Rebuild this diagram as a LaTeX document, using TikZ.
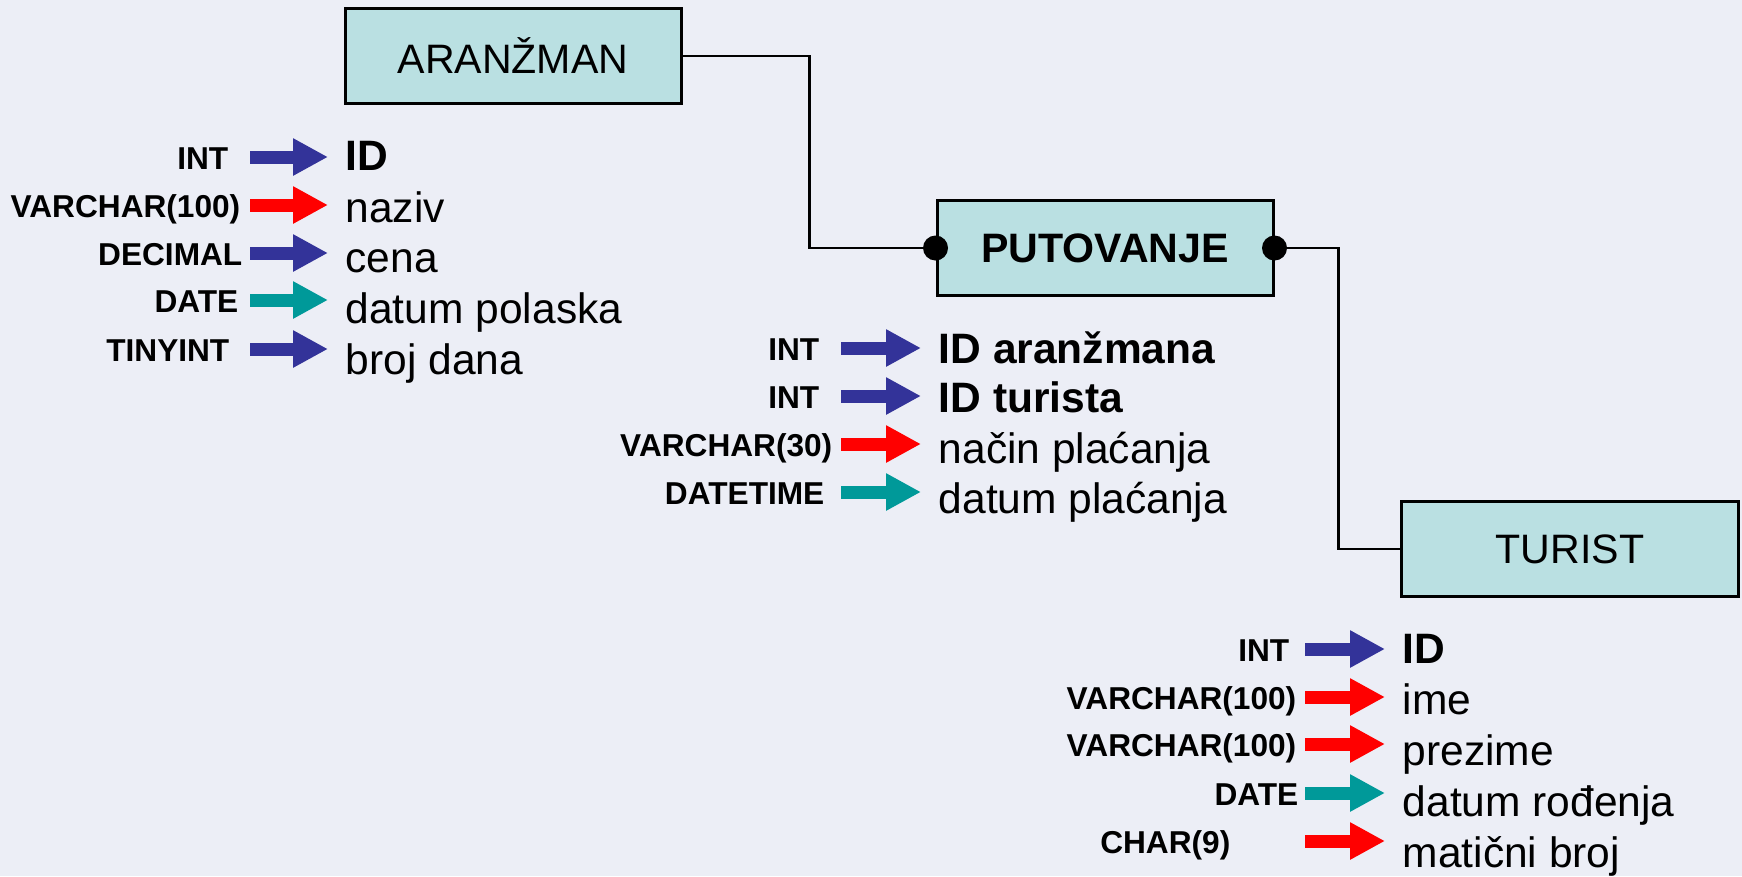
\documentclass[tikz,border=0pt]{standalone}
\usepackage{fontspec}
\setmainfont{Liberation Sans}
\usetikzlibrary{positioning, arrows.meta}
\definecolor{bgcol}{RGB}{236,238,246}
\definecolor{boxcol}{RGB}{186,224,226}
\definecolor{arrblue}{RGB}{51,51,153}
\definecolor{arrred}{RGB}{255,0,0}
\definecolor{arrteal}{RGB}{0,153,153}
\tikzset{
    ent/.style={shape=rectangle,draw,fill=boxcol,line width=0.85pt,minimum width=33.6mm,minimum height=9.5mm,font=\fontsize{11.7}{14}\selectfont},
    typ/.style={inner sep=0pt,anchor=east,text height=2.4mm,text depth=0pt,font=\bfseries\fontsize{9}{10}\selectfont},
    att/.style={inner sep=0pt,anchor=base west,font=\fontsize{12.1}{14}\selectfont},
    tarrow/.style={line width=1.3mm,draw=#1,-{Triangle[length=3.5mm,width=3.5mm]},shorten >=1.7mm},
    link/.style={line width=0.65pt},
    dot/.style={circle,fill,inner sep=0pt,minimum size=2.5mm},
  }
\begin{document}
\begin{tikzpicture}[x=0.1mm,y=-0.1mm,>=stealth]
    % background
	    \fill[bgcol] (0,0) rectangle (1742,876);
	    \useasboundingbox (0,0) rectangle (1742,876);
    % create the entities
	    \node[ent] (e1) at (513,56) {ARANŽMAN};
	    \node[ent,font=\bfseries\fontsize{11.7}{14}\selectfont] (e2) at (1105,248) {PUTOVANJE};
	    \node[ent,minimum width=33.7mm] (e3) at (1570,549) {TURIST};
    % links between them
	    \draw[link] (e1.east) -- ++(127,0) |- (e2.west);
	    \draw[link] (e2.east) -- ++(64,0) |- (e3.west);
	    \node[dot] (d1) at (e2.west) {};
	    \node[dot] (d2) at (e2.east) {};
    % ARANZMAN fields
	    \coordinate (c1) at (250,0);
	    \node[typ] (t1) at (229,157) {INT};
	    \node[typ] (t2) at (241,205) {VARCHAR(100)};
	    \node[typ] (t3) at (243,253) {DECIMAL};
	    \node[typ] (t4) at (239,300) {DATE};
	    \node[typ] (t5) at (230,349) {TINYINT};
	    \node[att] (f1) at (345,170) {\textbf{ID}};
	    \node[att] (f2) at (345,222) {naziv};
	    \node[att] (f3) at (345,272) {cena};
	    \node[att] (f4) at (345,323) {datum polaska};
	    \node[att] (f5) at (345,374) {broj dana};
	    \draw[tarrow=arrblue] (t1.east -| c1) -- (t1.east -| f1.west);
	    \draw[tarrow=arrred] (t2.east -| c1) -- (t2.east -| f2.west);
	    \draw[tarrow=arrblue] (t3.east -| c1) -- (t3.east -| f3.west);
	    \draw[tarrow=arrteal] (t4.east -| c1) -- (t4.east -| f4.west);
	    \draw[tarrow=arrblue] (t5.east -| c1) -- (t5.east -| f5.west);
    % PUTOVANJE fields
	    \coordinate (c2) at (841,0);
	    \node[typ] (t6) at (820,348) {INT};
	    \node[typ] (t7) at (820,396) {INT};
	    \node[typ] (t8) at (833,444) {VARCHAR(30)};
	    \node[typ] (t9) at (825,492) {DATETIME};
	    \node[att] (f6) at (938,363) {\textbf{ID aranžmana}};
	    \node[att] (f7) at (938,412) {\textbf{ID turista}};
	    \node[att] (f8) at (938,463) {način plaćanja};
	    \node[att] (f9) at (938,513) {datum plaćanja};
	    \draw[tarrow=arrblue] (t6.east -| c2) -- (t6.east -| f6.west);
	    \draw[tarrow=arrblue] (t7.east -| c2) -- (t7.east -| f7.west);
	    \draw[tarrow=arrred] (t8.east -| c2) -- (t8.east -| f8.west);
	    \draw[tarrow=arrteal] (t9.east -| c2) -- (t9.east -| f9.west);
    % TURIST fields
	    \coordinate (c3) at (1305,0);
	    \node[typ] (t10) at (1290,649) {INT};
	    \node[typ] (t11) at (1297,697) {VARCHAR(100)};
	    \node[typ] (t12) at (1297,744) {VARCHAR(100)};
	    \node[typ] (t13) at (1299,793) {DATE};
	    \node[typ] (t14) at (1231,841) {CHAR(9)};
	    \node[att] (f10) at (1402,663) {\textbf{ID}};
	    \node[att] (f11) at (1402,714) {ime};
	    \node[att] (f12) at (1402,765) {prezime};
	    \node[att] (f13) at (1402,816) {datum rođenja};
	    \node[att] (f14) at (1402,867) {matični broj};
	    \draw[tarrow=arrblue] (t10.east -| c3) -- (t10.east -| f10.west);
	    \draw[tarrow=arrred] (t11.east -| c3) -- (t11.east -| f11.west);
	    \draw[tarrow=arrred] (t12.east -| c3) -- (t12.east -| f12.west);
	    \draw[tarrow=arrteal] (t13.east -| c3) -- (t13.east -| f13.west);
	    \draw[tarrow=arrred] (t14.east -| c3) -- (t14.east -| f14.west);
\end{tikzpicture}
\end{document}
